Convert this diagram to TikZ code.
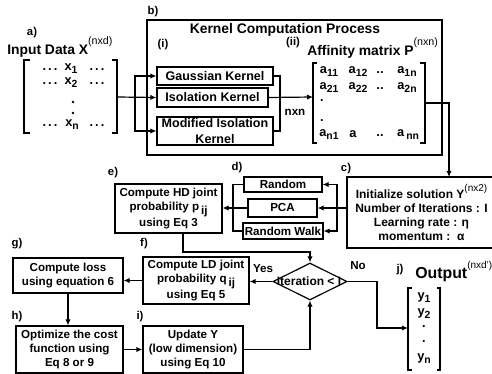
\documentclass[tikz,border=0pt]{standalone}
\usepackage{fontspec}
\setmainfont{Liberation Sans}
\usetikzlibrary{arrows.meta,shapes.geometric}
\newcommand\fsbox{\bfseries\fontsize{8.7}{10.5}\selectfont}
\newcommand\fsker{\bfseries\fontsize{9.4}{11.5}\selectfont}
\newcommand\fsbig{\bfseries\fontsize{10.4}{12}\selectfont}
\newcommand\fslab{\bfseries\fontsize{8.5}{10}\selectfont}
\newcommand\fsmat{\bfseries\fontsize{9.6}{11}\selectfont}
\newcommand\supx[2]{\raisebox{#1}{\mdseries\fontsize{8}{9}\selectfont #2}}
\newcommand\lowij{\,\raisebox{-2.5pt}{ij}}
\newcommand\sbs[1]{\raisebox{-2.2pt}{\fontsize{7.8}{8}\selectfont #1}}
\newcommand\mdots{.\kern1.6pt.\kern1.6pt.}
\begin{document}
\begin{tikzpicture}[x=0.75pt,y=-0.75pt,
  box/.style={draw,line width=0.9pt,align=center,inner sep=0pt,font=\fsbox},
  kbox/.style={box,font=\fsker},
  arr/.style={-{Latex[length=4.5pt,width=4pt]},line width=0.9pt},
  ln/.style={line width=0.9pt},
  lab/.style={font=\fslab,inner sep=0pt},
  txt/.style={font=\fsbox,inner sep=0pt},
  mt/.style={font=\fsmat,inner sep=0pt},
  vdot/.style={fill=black}]
\useasboundingbox (0,0) rectangle (492,374);

% a) input
\node[lab] (la) at (32,33) {a)};
\node[font=\fsbig,inner sep=0pt,anchor=base west] (inp) at (7,55) {Input Data X\supx{7.5pt}{(nxd)}};
\draw[ln] (30,60) -- (24,60) -- (24,133) -- (30,133);
\draw[ln] (112,60) -- (117,60) -- (117,133) -- (112,133);
\node[mt] (ax1l) at (50,70) {\mdots};
\node[mt] (ax1) at (71,69) {x\sbs{1}};
\node[mt] (ax1r) at (97,70) {\mdots};
\node[mt] (ax2l) at (50,84) {\mdots};
\node[mt] (ax2) at (71,83) {x\sbs{2}};
\node[mt] (ax2r) at (97,84) {\mdots};
\fill[vdot] (73,102) circle[radius=1.3];
\fill[vdot] (73,113) circle[radius=1.3];
\node[mt] (axnl) at (50,126) {\mdots};
\node[mt] (axn) at (72,125) {x\sbs{n}};
\node[mt] (axnr) at (97,126) {\mdots};
\coordinate (aR) at (117,97);
\coordinate (jn) at (135,97);

% b) kernel computation
\node[draw,line width=2.2pt,minimum width=221.25pt,minimum height=101.25pt,inner sep=0pt] (bbox) at (294.5,87.5) {};
\node[lab] (lb) at (153,12) {b)};
\node[font=\fsbig,inner sep=0pt] (ktitle) at (285,30) {Kernel Computation Process};
\node[lab] (li) at (163,45) {(i)};
\node[kbox,minimum width=87pt,minimum height=13.5pt] (gauss) at (215,76) {Gaussian Kernel};
\node[kbox,minimum width=83.25pt,minimum height=14.25pt] (iso) at (212.5,97.5) {Isolation Kernel};
\node[kbox,minimum width=87pt,minimum height=21pt] (mod) at (215,131) {Modified Isolation\\Kernel};
\draw[arr] (aR) -- (iso.west);
\draw[arr] (jn) |- (gauss.west);
\draw[arr] (jn) |- (mod.west);
\coordinate (kr) at (280,97);
\draw[ln] (gauss.east) -| (kr) |- (mod.east);
\node[txt] (nxn) at (295,112) {nxn};
\node[lab] (lii) at (293,43) {(ii)};
\node[font=\fsbig,inner sep=0pt,anchor=base west] (aff) at (307,56) {Affinity matrix P\supx{7.5pt}{(nxn)}};
\draw[ln] (317,63) -- (313,63) -- (313,143) -- (317,143);
\draw[ln] (420,63) -- (425,63) -- (425,143) -- (420,143);
\coordinate (pL) at (313,97);
\coordinate (pR) at (425,103);
\draw[arr] (iso.east) -- (pL);
\node[mt] (a11) at (329,72) {a\sbs{11}};
\node[mt] (a12) at (358,72) {a\sbs{12}};
\node[mt] (a1d) at (380,73) {..};
\node[mt] (a1n) at (407,72) {a\sbs{1n}};
\node[mt] (a21) at (329,88) {a\sbs{21}};
\node[mt] (a22) at (358,88) {a\sbs{22}};
\node[mt] (a2d) at (380,89) {..};
\node[mt] (a2n) at (407,88) {a\sbs{2n}};
\node[mt] (pd1) at (322,101) {.};
\node[mt] (pd2) at (322,121) {.};
\node[mt] (an1) at (329,135) {a\sbs{n1}};
\node[mt] (ana) at (353,134) {a};
\node[mt] (and) at (380,136) {..};
\node[mt] (ann) at (408,135) {a\,\sbs{nn}};

% c) init
\node[lab] (lc) at (346,169) {c)};
\node[box,font=\bfseries\fontsize{9}{10.5}\selectfont,minimum width=111.75pt,minimum height=53.25pt] (cbox) at (421.5,212.5)
  {Initialize solution Y\supx{5pt}{\fontsize{7.5}{8}\selectfont(nx2)}\\Number of Iterations : I\\Learning rate : η\\momentum :\ \ α};
\coordinate (cTop) at (449,177);
\draw[arr] (pR) -| (cTop);

% d) init methods
\node[lab] (ld) at (237,168) {d)};
\node[box,minimum width=58.5pt,minimum height=11.25pt] (rand) at (283,184.5) {Random};
\node[box,minimum width=51.75pt,minimum height=13.5pt] (pca) at (282.5,208) {PCA};
\node[box,minimum width=60pt,minimum height=12pt] (rwalk) at (283,231) {Random Walk};
\draw[arr] (cbox.west |- pca.east) -- (pca.east);
\coordinate (dv) at (337,208);
\draw[arr] (dv) |- (rand.east);
\draw[arr] (dv) |- (rwalk.east);
\coordinate (dl) at (233,208);
\draw[ln] (rand.west) -| (dl) |- (rwalk.west);

% e)
\node[lab] (le) at (113,173) {e)};
\node[box,minimum width=80.25pt,minimum height=36.75pt] (ebox) at (168.5,208.5) {Compute HD joint\\probability p\lowij\\using Eq 3};
\draw[arr] (pca.west) -- (pca.west -| ebox.east);

% diamond
\node[diamond,draw,line width=0.9pt,minimum width=55.5pt,minimum height=27.75pt,inner sep=0pt] (dia) at (310,281.5) {};
\node[txt,font=\bfseries\fontsize{9}{10}\selectfont] (diat) at (309,281.5) {Iteration < I};
\coordinate (eb) at (183,252);
\draw[arr] (ebox.south -| eb) -- (eb) -| (dia.north);

% f)
\node[lab] (lf) at (144,244) {f)};
\node[box,minimum width=79.5pt,minimum height=35.25pt] (fbox) at (196,280.5) {Compute LD joint\\probability q\lowij\\using Eq 5};
\draw[arr] (dia.west) -- (dia.west -| fbox.east);
\node[txt] (yes) at (263,269) {Yes};

% g)
\node[lab] (lg) at (17,244) {g)};
\node[box,minimum width=82.5pt,minimum height=26.25pt] (gbox) at (68,275.5) {Compute loss\\using equation 6};
\draw[arr] (fbox.west) -- (fbox.west -| gbox.east);

% h)
\node[lab] (lh) at (17,317) {h)};
\node[box,minimum width=80.25pt,minimum height=35.25pt] (hbox) at (69.5,349.5) {Optimize the cost\\function using\\Eq 8 or 9};
\draw[arr] (gbox.south) -- (gbox.south |- hbox.north);

% i)
\node[lab] (lI) at (140,317) {i)};
\node[box,minimum width=75pt,minimum height=35.25pt] (ibox) at (193,349.5) {Update Y\\(low dimension)\\using Eq 10};
\draw[arr] (hbox.east) -- (hbox.east -| ibox.west);
\draw[arr] (ibox.east) -| (dia.south);

% j) output
\node[txt] (no) at (358,266) {No};
\node[lab] (lj) at (400,270) {j)};
\node[font=\bfseries\fontsize{11.9}{13}\selectfont,inner sep=0pt,anchor=base west] (outp) at (415,278) {Output\supx{7pt}{\fontsize{7.5}{8}\selectfont(nxd')}};
\draw[ln] (412,288) -- (408,288) -- (408,370) -- (412,370);
\draw[ln] (437,288) -- (440,288) -- (440,370) -- (437,370);
\coordinate (nx) at (377,328);
\coordinate (oL) at (408,328);
\draw[arr] (dia.east) -| (nx) -- (oL);
\node[mt] (y1) at (424,298) {y\sbs{1}};
\node[mt] (y2) at (424,314) {y\sbs{2}};
\node[mt] (yd1) at (424,327) {.};
\node[mt] (yd2) at (424,342) {.};
\node[mt] (yn) at (424,359) {y\sbs{n}};
\end{tikzpicture}
\end{document}
